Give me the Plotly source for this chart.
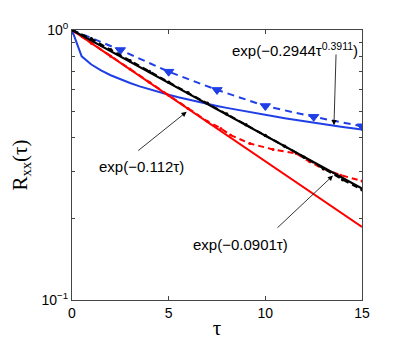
import plotly.graph_objects as go
import math

# ---- data ----
tau_blue_fit = [0, 0.5, 1, 1.5, 2, 2.5, 3, 3.5, 4, 4.5, 5, 5.5, 6, 6.5, 7, 7.5, 8, 8.5,
                9, 9.5, 10, 10.5, 11, 11.5, 12, 12.5, 13, 13.5, 14, 14.5, 15]
r_blue_fit = [1.0, 0.7989, 0.7450, 0.7082, 0.6797, 0.6562, 0.6361, 0.6185, 0.6027, 0.5885,
              0.5756, 0.5636, 0.5525, 0.5422, 0.5325, 0.5234, 0.5148, 0.5067, 0.4990,
              0.4916, 0.4846, 0.4779, 0.4714, 0.4652, 0.4593, 0.4536, 0.4481, 0.4428,
              0.4376, 0.4327, 0.4280]

tau_blue_data = [0, 2.5, 5, 7.5, 10, 12.5, 15]
r_blue_data = [1.0, 0.843, 0.701, 0.600, 0.523, 0.477, 0.440]

tau_black_fit = [0, 5, 10, 15]
r_black_fit = [1.0, 0.6373, 0.4062, 0.2588]

tau_red_fit = [0, 5, 10, 15]
r_red_fit = [1.0, 0.5712, 0.3263, 0.1864]

tau_black_data = [0, 1, 2, 3, 4, 5, 6, 7, 8, 9, 10, 11, 12, 13, 14, 15]
r_black_data = [1.0, 0.928, 0.845, 0.770, 0.702, 0.640, 0.585, 0.535, 0.489, 0.446,
                0.407, 0.371, 0.338, 0.306, 0.279, 0.256]

tau_red_data = [0, 1, 2, 3, 4, 5, 6, 7, 7.7, 8.2, 9.2, 10.4, 11.6, 12.3, 13.0, 13.9, 15]
r_red_data = [1.0, 0.893, 0.800, 0.717, 0.641, 0.573, 0.512, 0.459, 0.432, 0.408,
              0.380, 0.361, 0.349, 0.325, 0.306, 0.290, 0.276]

x_ticks = [0, 5, 10, 15]
y_ticks = [0.1, 1]
y_tick_text = ["10<sup>\u22121</sup>", "10<sup>0</sup>"]
y_minor = [0.2, 0.3, 0.4, 0.5, 0.6, 0.7, 0.8, 0.9]

BLUE = "#1f3fe6"
RED = "#ff0000"
BLACK = "#000000"

fig = go.Figure()
fig.add_trace(go.Scatter(x=tau_blue_data, y=r_blue_data, mode="lines+markers",
                         line=dict(color=BLUE, width=2, dash="7px,5px"),
                         marker=dict(symbol="triangle-down", size=9, color=BLUE,
                                     line=dict(color=BLUE, width=1))))
fig.add_trace(go.Scatter(x=tau_blue_fit, y=r_blue_fit, mode="lines",
                         line=dict(color=BLUE, width=2)))
fig.add_trace(go.Scatter(x=tau_red_data, y=r_red_data, mode="lines+markers",
                         line=dict(color=RED, width=2, dash="6px,4px"),
                         marker=dict(symbol="circle", size=3, color=RED)))
fig.add_trace(go.Scatter(x=tau_red_fit, y=r_red_fit, mode="lines",
                         line=dict(color=RED, width=2)))
fig.add_trace(go.Scatter(x=tau_black_fit, y=r_black_fit, mode="lines",
                         line=dict(color=BLACK, width=2)))
fig.add_trace(go.Scatter(x=tau_black_data, y=r_black_data, mode="lines+markers",
                         line=dict(color=BLACK, width=2, dash="6px,4px"),
                         marker=dict(symbol="circle", size=3.5, color=BLACK)))

ann_font = dict(family="Liberation Sans, Arial, sans-serif", size=15, color="black")

def arrow(tip, tail):
    return dict(x=tip[0], y=math.log10(tip[1]), ax=tail[0], ay=math.log10(tail[1]),
                xref="x", yref="y", axref="x", ayref="y", text="", showarrow=True,
                arrowhead=2, arrowsize=1.3, arrowwidth=0.8, arrowcolor="black")

def label(pos, txt):
    return dict(x=pos[0], y=math.log10(pos[1]), xref="x", yref="y", text=txt,
                showarrow=False, font=ann_font)

annotations = [
    arrow((13.55, 0.444), (13.66, 0.822)),
    label((11.55, 0.85), "exp(\u22120.2944\u03c4<sup>0.3911</sup>)"),
    arrow((5.93, 0.498), (3.35, 0.354)),
    label((3.62, 0.311), "exp(\u22120.112\u03c4)"),
    arrow((13.5, 0.289), (10.55, 0.183)),
    label((8.74, 0.160), "exp(\u22120.0901\u03c4)"),
]

# page body adds an 8px offset; margins compensate
fig.update_layout(
    width=407, height=339,
    margin=dict(l=64, r=53, t=22, b=47),
    paper_bgcolor="white", plot_bgcolor="white",
    showlegend=False,
    annotations=annotations,
    font=dict(family="Liberation Sans, Arial, sans-serif", size=13, color="black"),
)
fig.update_xaxes(range=[0, 15], tickvals=x_ticks, ticks="inside", ticklen=4,
                 showline=True, linecolor="#444", linewidth=1, mirror="ticks",
                 showgrid=False, zeroline=False, automargin=False,
                 tickfont=dict(size=14),
                 title=dict(text="\u03c4", font=dict(family="Liberation Serif, Times New Roman, serif", size=21),
                            standoff=0))
fig.update_yaxes(type="log", range=[-1, 0], tickvals=y_ticks, ticktext=y_tick_text,
                 ticks="inside", ticklen=4, automargin=False,
                 minor=dict(tickvals=y_minor, ticks="inside", ticklen=3, tickcolor="#444"),
                 showline=True, linecolor="#444", linewidth=1, mirror="ticks",
                 showgrid=False, zeroline=False, tickfont=dict(size=14),
                 title=dict(text="R<sub>xx</sub>(\u03c4)",
                            font=dict(family="Liberation Serif, Times New Roman, serif", size=21),
                            standoff=12))

fig.write_html("out.html")
